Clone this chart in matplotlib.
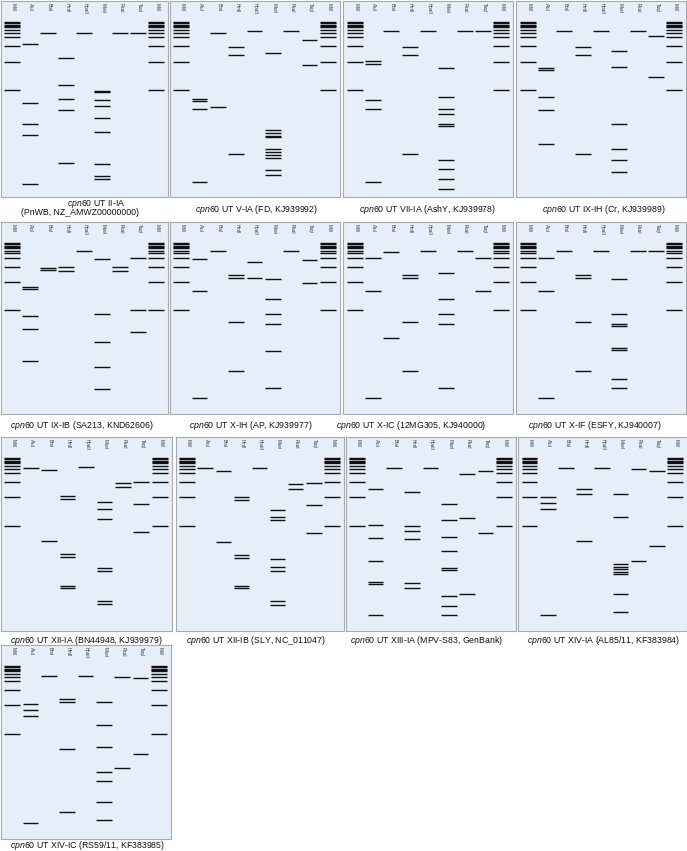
import matplotlib
matplotlib.use('Agg')
import matplotlib.pyplot as plt

plt.rcParams['font.family'] = ['Liberation Sans', 'DejaVu Sans']
plt.rcParams['mathtext.fontset'] = 'custom'
plt.rcParams['mathtext.rm'] = 'Liberation Sans'
plt.rcParams['mathtext.it'] = 'Liberation Sans:italic'

# lane names, left to right
lanes = ['MW', 'AluI', 'BfaI', 'HinfI', 'HpaII', 'MseI', 'RsaI', 'TaqI', 'MW']

# band positions (migration distance from the top of the gel, gel length 197)
mw_ladder = [21.3, 22.8, 24.2, 25.6, 26.8, 29.3, 32.3, 37.0, 45.8, 61.3, 90.2]

# each gel: AluI, BfaI, HinfI, HpaII, MseI, RsaI, TaqI
ut_ii_ia = [[43.7, 102.3, 124.0, 135.0, 184.3], [32.3], [57.3, 85.0, 99.0, 109.7, 162.7], [32.3],
            [90.6, 91.8, 100.0, 105.3, 117.7, 131.7, 164.3, 176.3, 179.0], [32.3], [32.3]]
ut_v_ia = [[99.2, 101.2, 108.7, 181.7], [32.7, 106.3], [46.7, 54.7, 154.0], [30.3],
           [52.3, 130.0, 133.0, 136.0, 137.2, 149.0, 152.0, 155.0, 158.3, 169.5, 174.5], [30.3], [40.0, 64.7]]
ut_vii_ia = [[60.7, 63.3, 99.7, 108.7, 181.7], [30.7], [46.7, 54.3, 154.0], [30.7],
             [67.7, 97.0, 108.7, 113.7, 124.3, 125.8, 160.0, 169.3, 178.7, 189.3], [30.7], [30.7]]
ut_ix_ih = [[67.3, 69.6, 96.7, 109.7, 144.3], [30.7], [46.7, 54.3, 154.0], [30.7],
            [50.3, 66.7, 123.7, 148.7, 159.7, 172.0], [30.7], [36.0, 76.3]]
ut_ix_ib = [[66.7, 68.4, 96.1, 109.8, 143.0], [46.9, 49.2], [45.8, 50.6], [29.4],
            [38.3, 94.4, 123.1, 148.4, 171.0], [46.2, 50.6], [36.6, 90.6, 112.9]]
ut_x_ih = [[37.6, 70.5, 180.2], [29.4], [54.4, 57.1, 102.9, 152.5], [41.4, 57.8],
           [58.5, 79.0, 94.4, 105.0, 132.0, 170.7], [29.4], [39.0, 62.6]]
ut_x_ic = [[37.3, 70.5, 180.2], [31.1, 118.7], [54.4, 57.1, 102.9, 152.5], [29.4],
           [52.3, 79.0, 94.4, 105.0, 170.7], [29.4], [36.6, 70.5]]
ut_x_if = [[37.3, 70.5, 180.2], [29.4], [54.4, 57.1, 102.9, 152.5], [29.4],
           [58.5, 94.4, 104.9, 106.5, 129.3, 131.7, 161.1, 170.7], [29.4], [29.4]]
ut_xii_ia = [[31.1], [33.1, 105.8], [60.0, 63.0, 119.3, 121.7, 151.1, 153.5], [30.8],
             [66.2, 72.7, 82.8, 132.8, 135.9, 166.3, 170.0], [46.6, 50.7], [45.6, 67.9, 96.7]]
ut_xii_ib = [[31.8], [34.1, 106.5], [61.2, 64.2, 120.0, 122.7, 151.1, 153.8], [31.8],
             [73.7, 81.1, 84.2, 124.0, 132.5, 135.9, 166.6, 170.7], [47.7, 52.7], [46.6, 69.0, 97.7]]
ut_xiii_ia = [[52.4, 89.6, 102.1, 126.4, 147.0, 149.0, 181.2], [31.8], [55.4, 90.2, 95.3, 103.8, 148.4, 153.8], [31.8],
              [67.6, 83.8, 101.7, 115.6, 133.2, 135.5, 161.6, 172.0, 181.2], [37.5, 82.5, 159.5], [34.8, 97.7]]
ut_xiv_ia = [[61.2, 66.6, 72.7, 180.8], [31.8], [52.7, 58.1, 106.1], [31.8],
             [58.1, 81.1, 129.1, 131.8, 134.5, 137.2, 139.5, 159.5, 177.8], [32.8, 126.0], [34.1, 110.5]]
ut_xiv_ic = [[60.2, 65.9, 71.7, 180.8], [31.1], [54.4, 57.8, 105.8, 169.3], [31.1],
             [57.5, 81.1, 103.8, 128.8, 137.9, 159.9, 177.8], [32.4, 125.4], [33.5, 110.2]]

gels = [ut_ii_ia, ut_v_ia, ut_vii_ia, ut_ix_ih,
        ut_ix_ib, ut_x_ih, ut_x_ic, ut_x_if,
        ut_xii_ia, ut_xii_ib, ut_xiii_ia, ut_xiv_ia,
        ut_xiv_ic]

captions = [
    ['$\\it{cpn}$60 UT II-IA', '(PnWB, NZ_AMWZ00000000)'],
    ['$\\it{cpn}$60 UT V-IA (FD, KJ939992)'],
    ['$\\it{cpn}$60 UT VII-IA (AshY, KJ939978)'],
    ['$\\it{cpn}$60 UT IX-IH (Cr, KJ939989)'],
    ['$\\it{cpn}$60 UT IX-IB (SA213, KND62606)'],
    ['$\\it{cpn}$60 UT X-IH (AP, KJ939977)'],
    ['$\\it{cpn}$60 UT X-IC (12MG305, KJ940000)'],
    ['$\\it{cpn}$60 UT X-IF (ESFY, KJ940007)'],
    ['$\\it{cpn}$60 UT XII-IA (BN44948, KJ939979)'],
    ['$\\it{cpn}$60 UT XII-IB (SLY, NC_011047)'],
    ['$\\it{cpn}$60 UT XIII-IA (MPV-S83, GenBank)'],
    ['$\\it{cpn}$60 UT XIV-IA (AL85/11, KF383984)'],
    ['$\\it{cpn}$60 UT XIV-IC (RS59/11, KF383985)'],
]

# layout in pixels: panel (left, top, width, height), caption baselines (x, y)
W, H = 687, 851
panels = [(0.5, 0.5, 167, 196.5), (169.5, 0.5, 170, 196.5), (343, 0.5, 170, 196.5), (516, 0.5, 170, 196.5),
          (0.5, 222, 167, 192), (169.5, 222, 170, 192), (343, 222, 170, 192), (516, 222, 170, 192),
          (0.5, 437, 171, 194), (175.5, 437, 168, 194), (345.5, 437, 170, 194), (518, 437, 168.5, 194),
          (0.5, 645, 170, 194)]
cap_pos = [[(96, 206.0), (80, 215.3)], [(257, 212.0)], [(428, 212.0)], [(604, 212.0)],
           [(82, 427.7)], [(251, 427.7)], [(411, 427.7)], [(594.5, 427.7)],
           [(86, 643.0)], [(256, 643.0)], [(426.6, 643.0)], [(603.7, 643.0)],
           [(87.5, 848.2)]]

gel_bg = '#e6eef9'
band_col = '#111111'

fig = plt.figure(figsize=(W / 100, H / 100), dpi=100)

for rect, bands, caps, pos in zip(panels, gels, captions, cap_pos):
    left, top, w, h = rect
    ax = fig.add_axes([left / W, 1 - (top + h) / H, w / W, h / H])
    ax.set_xlim(-0.64, 8.64)
    ax.set_ylim(197, 0)
    ax.set_facecolor(gel_bg)
    ax.set_xticks([])
    ax.set_yticks([])
    for s in ax.spines.values():
        s.set_color('#aaaaaa')
        s.set_linewidth(0.8)
    for i, name in enumerate(lanes):
        ax.text(i + 0.05, 2.2, name, rotation=270, ha='center', va='top', fontsize=3.3, color='#333333')
    for i, ys in enumerate([mw_ladder] + bands + [mw_ladder]):
        ax.hlines(ys, i - 0.43, i + 0.43, color=band_col, lw=1.0)
    for txt, (cx, cy) in zip(caps, pos):
        fig.text(cx / W, 1 - cy / H, txt, ha='center', va='baseline', fontsize=6.3, color='#111111')

fig.savefig('out.png', dpi=100)
